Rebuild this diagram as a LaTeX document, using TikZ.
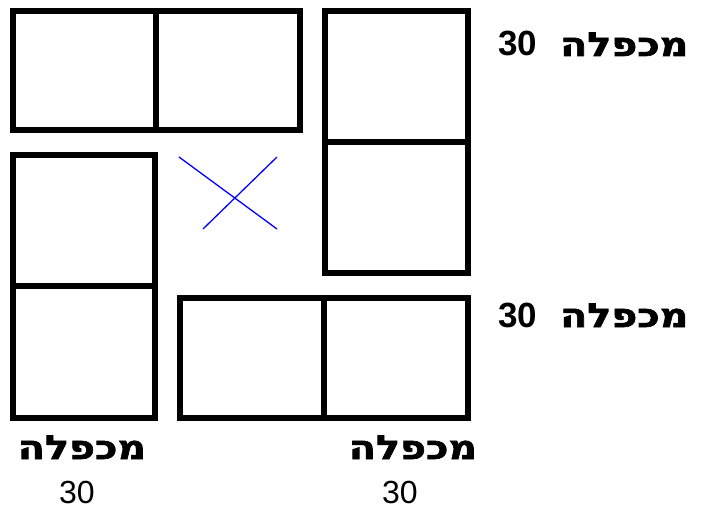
\documentclass[tikz,border=0pt]{standalone}
\usepackage{fontspec}
\setmainfont{Liberation Sans}
\newfontfamily\hebfont[Script=Hebrew, FakeStretch=1.2, FakeBold=2]{DejaVu Sans}
\TeXXeTstate=1
\usetikzlibrary{positioning}

\begin{document}
\begin{tikzpicture}[x=1pt, y=-1pt,
    cell/.style={line width=6pt},
    cross/.style={blue, line width=1.3pt},
    prodlbl/.style={font=\hebfont\bfseries\fontsize{33}{36}\selectfont, inner sep=0pt},
    numlbl/.style={font=\fontsize{32}{36}\selectfont, inner sep=0pt}]
    \useasboundingbox (0,0) rectangle (705,514);

    % top pair and right column
    \draw[cell] (13,11) rectangle (156,130); \draw[cell] (156,11) rectangle (300,130);
    \draw[cell] (325,11) rectangle (468,142); \draw[cell] (325,142) rectangle (468,273);

    % left column and bottom pair
    \draw[cell] (13,155) rectangle (155,286); \draw[cell] (13,286) rectangle (155,418);
    \draw[cell] (180,298) rectangle (324,418); \draw[cell] (324,298) rectangle (468,418);

    % the empty middle
    \draw[cross] (179,157) -- (277,229); \draw[cross] (203,229) -- (277,157);

    \node[prodlbl, anchor=base west] (topLbl) at (498,56) {\beginR מכפלה\hspace{23pt}\beginL{\rmfamily\bfseries\fontsize{35}{38}\selectfont 30}\endL\endR};
    \node[prodlbl, anchor=base west] (midLbl) at (498,327) {\beginR מכפלה\hspace{23pt}\beginL{\rmfamily\bfseries\fontsize{35}{38}\selectfont 30}\endL\endR};

    \node[prodlbl, anchor=base] (leftLbl) at (82,459) {\beginR מכפלה\endR};
    \node[numlbl, anchor=base] (leftNum) at (77,503) {30};
    \node[prodlbl, anchor=base] (rightLbl) at (413,459) {\beginR מכפלה\endR};
    \node[numlbl, anchor=base] (rightNum) at (400,503) {30};
\end{tikzpicture}
\end{document}
